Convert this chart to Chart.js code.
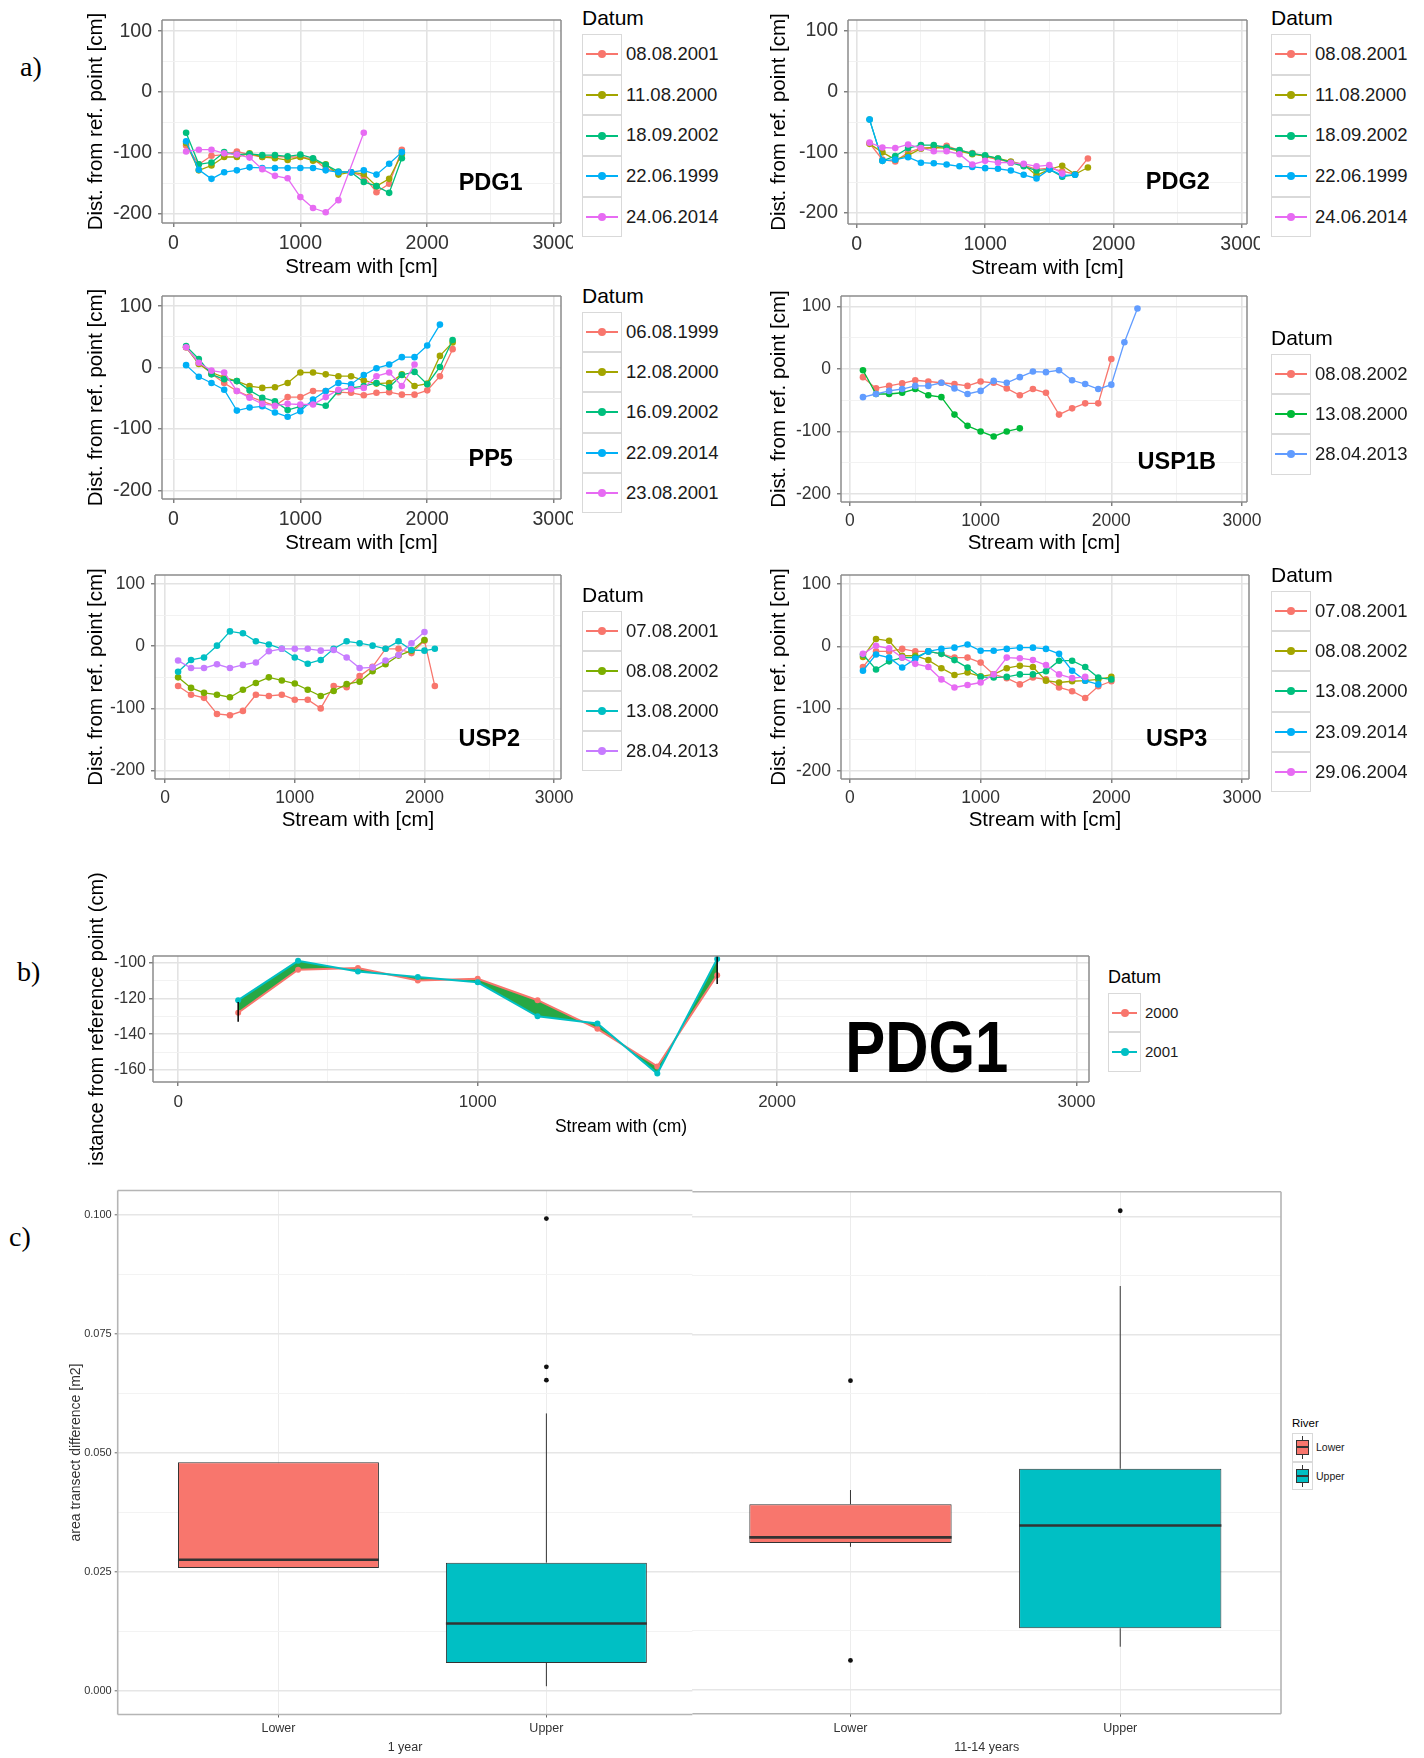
<!DOCTYPE html>
<html lang="en">
<head>
<meta charset="utf-8">
<title>Cross-section profiles and transect area change</title>
<script src="https://cdn.jsdelivr.net/npm/chart.js@4.4.1/dist/chart.umd.min.js"></script>
<style>
  html, body { margin: 0; padding: 0; background: #fff; }
  #page { position: relative; width: 1424px; height: 1758px; overflow: hidden; background: #fff; }
  #page canvas { position: absolute; }
  .tag { position: absolute; font-family: 'Liberation Serif', 'DejaVu Serif', serif; font-size: 28px; line-height: 28px; color: #000; }
  .legend { position: absolute; color: #1a1a1a; }
  .legend .ttl { position: absolute; left: 0; white-space: nowrap; color: #000; }
  .legend .row { position: absolute; left: 0; }
  .legend .key { position: absolute; left: 0; top: 0; box-sizing: border-box; border: 1px solid #d9d9d9; background: #fff; }
  .legend .lbl { position: absolute; top: 0; white-space: nowrap; }
</style>
</head>
<body>
<div id="page">
  <div class="tag" style="left:20px;top:53px">a)</div>
  <div class="tag" style="left:17px;top:958px">b)</div>
  <div class="tag" style="left:9px;top:1223px">c)</div>

  <canvas id="pdg1"></canvas>
  <canvas id="pdg2"></canvas>
  <canvas id="pp5"></canvas>
  <canvas id="usp1b"></canvas>
  <canvas id="usp2"></canvas>
  <canvas id="usp3"></canvas>
  <canvas id="pdg1Years"></canvas>
  <canvas id="areaYear1"></canvas>
  <canvas id="areaYear14"></canvas>

  <div class="legend" id="lgPdg1"></div>
  <div class="legend" id="lgPdg2"></div>
  <div class="legend" id="lgPp5"></div>
  <div class="legend" id="lgUsp1b"></div>
  <div class="legend" id="lgUsp2"></div>
  <div class="legend" id="lgUsp3"></div>
  <div class="legend" id="lgYears"></div>
  <div class="legend" id="lgRiver"></div>
</div>

<script>
const SANS = "'Liberation Sans', Arial, sans-serif";
Chart.defaults.font.family = SANS;
Chart.defaults.color = '#333';

// ggplot hue palettes
const hue2 = ['#F8766D', '#00BFC4'];
const hue3 = ['#F8766D', '#00BA38', '#619CFF'];
const hue4 = ['#F8766D', '#7CAE00', '#00BFC4', '#C77CFF'];
const hue5 = ['#F8766D', '#A3A500', '#00BF7D', '#00B0F6', '#E76BF3'];

// tick positions (grid at every entry, label on the major ones)
const streamTicks = [0, 500, 1000, 1500, 2000, 2500, 3000];
const depthTicks = [-200, -150, -100, -50, 0, 50, 100];
const pdgDepthTicks = [-160, -150, -140, -130, -120, -110, -100];
const areaTicks = [0, 0.0125, 0.025, 0.0375, 0.05, 0.0625, 0.075, 0.0875, 0.1];

// ---------- a) cross sections, distance from reference point [cm] ----------
const labelAt = [2500, -150];

const pdg1Dates = ['08.08.2001', '11.08.2000', '18.09.2002', '22.06.1999', '24.06.2014'];
const pdg1X = [100, 200, 300, 400, 500, 600, 700, 800, 900, 1000, 1100, 1200, 1300, 1400, 1500, 1600, 1700, 1800];
const pdg1Depth = [
  [-88, -119, -105, -103, -98, -103, -107, -106, -107, -107, -110, -126, -132, -132, -139, -165, -151, -95],
  [-84, -129, -121, -107, -107, -101, -107, -109, -112, -107, -113, -119, -136, -132, -135, -155, -143, -102],
  [-67, -119, -116, -99, -103, -102, -104, -104, -106, -103, -109, -120, -131, -132, -148, -155, -166, -109],
  [-81, -128, -143, -132, -129, -124, -125, -125, -125, -125, -125, -129, -132, -132, -129, -136, -118, -99],
  [-98, -95, -95, -101, -103, -108, -127, -138, -142, -173, -191, -198, -178, null, -67]
];

const pdg2Dates = ['08.08.2001', '11.08.2000', '18.09.2002', '22.06.1999', '24.06.2014'];
const pdg2X = [100, 200, 300, 400, 500, 600, 700, 800, 900, 1000, 1100, 1200, 1300, 1400, 1500, 1600, 1700, 1800];
const pdg2Depth = [
  [-85, -112, -115, -100, -93, -92, -89, -97, -101, -107, -112, -116, -121, -128, -126, -131, -136, -110],
  [-86, -100, -112, -105, -94, -92, -93, -98, -103, -106, -110, -115, -120, -138, -128, -122, -136, -125],
  [-46, -114, -106, -93, -88, -88, -92, -96, -102, -105, -110, -117, -123, -130, -128, -140, -137],
  [-46, -114, -112, -108, -117, -118, -120, -123, -124, -126, -127, -130, -137, -143, -128, -138, -137],
  [-84, -92, -93, -87, -93, -98, -98, -103, -120, -114, -117, -117, -119, -123, -121, -135]
];

const pp5Dates = ['06.08.1999', '12.08.2000', '16.09.2002', '22.09.2014', '23.08.2001'];
const pp5X = [100, 200, 300, 400, 500, 600, 700, 800, 900, 1000, 1100, 1200, 1300, 1400, 1500, 1600, 1700, 1800, 1900, 2000, 2100, 2200];
const pp5Depth = [
  [33, 8, -10, -25, -38, -47, -55, -62, -48, -48, -38, -38, -40, -41, -45, -41, -40, -44, -44, -37, -14, 30],
  [33, 6, -8, -16, -22, -30, -33, -32, -25, -8, -8, -11, -14, -14, -21, -26, -25, -11, -30, -26, 19, 41],
  [35, 14, -11, -19, -22, -37, -49, -55, -69, -63, -58, -62, -38, -33, -30, -25, -32, -12, -7, -27, 1, 45],
  [4, -15, -25, -36, -70, -65, -63, -73, -80, -71, -52, -38, -25, -27, -12, -1, 5, 17, 17, 36, 70],
  [33, 8, -5, -8, -38, -49, -59, -62, -59, -60, -60, -48, -36, -35, -33, -14, -8, -30, 5]
];

const usp1bDates = ['08.08.2002', '13.08.2000', '28.04.2013'];
const usp1bX = [100, 200, 300, 400, 500, 600, 700, 800, 900, 1000, 1100, 1200, 1300, 1400, 1500, 1600, 1700, 1800, 1900, 2000, 2100, 2200];
const usp1bDepth = [
  [-13, -31, -27, -23, -18, -20, -22, -24, -27, -20, -22, -31, -42, -32, -38, -73, -63, -55, -55, 16],
  [-2, -40, -40, -38, -32, -42, -45, -73, -91, -100, -108, -100, -95],
  [-45, -40, -35, -32, -27, -27, -22, -31, -40, -35, -19, -22, -13, -4, -5, -2, -18, -24, -32, -25, 43, 97]
];

const usp2Dates = ['07.08.2001', '08.08.2002', '13.08.2000', '28.04.2013'];
const usp2X = [100, 200, 300, 400, 500, 600, 700, 800, 900, 1000, 1100, 1200, 1300, 1400, 1500, 1600, 1700, 1800, 1900, 2000, 2080];
const usp2Depth = [
  [-64, -78, -83, -109, -111, -104, -78, -80, -78, -86, -86, -100, -64, -66, -48, -33, -4, -4, -11, 9, -64],
  [-50, -67, -75, -78, -82, -70, -59, -50, -55, -60, -70, -80, -72, -61, -57, -40, -29, -15, -7, 10],
  [-41, -22, -18, 1, 24, 21, 8, 3, -4, -18, -28, -22, -4, 8, 5, 1, -4, 8, -6, -7, -4],
  [-23, -35, -35, -29, -35, -30, -26, -8, -4, -4, -4, -7, -6, -18, -35, -34, -23, -14, 5, 23]
];

const usp3Dates = ['07.08.2001', '08.08.2002', '13.08.2000', '23.09.2014', '29.06.2004'];
const usp3X = [100, 200, 300, 400, 500, 600, 700, 800, 900, 1000, 1100, 1200, 1300, 1400, 1500, 1600, 1700, 1800, 1900, 2000];
const usp3Depth = [
  [-33, -8, -8, -4, -8, -8, -12, -18, -18, -26, -45, -51, -61, -50, -53, -66, -72, -83, -64, -56],
  [-17, 12, 9, -15, -15, -22, -35, -46, -42, -48, -45, -35, -31, -33, -55, -58, -56, -55, -53, -49],
  [-13, -37, -24, -18, -18, -8, -12, -22, -34, -49, -50, -49, -45, -45, -40, -23, -23, -33, -50, -53],
  [-39, -13, -18, -34, -20, -8, -4, -2, 3, -7, -7, -4, -2, -2, -4, -12, -39, -55, -61],
  [-12, 1, -3, -18, -28, -33, -53, -66, -62, -58, -45, -18, -19, -22, -30, -45, -51, -49]
];

// ---------- b) PDG1, two years with the band between them ----------
const yearsLabels = ['2000', '2001'];
const yearsX = [200, 400, 600, 800, 1000, 1200, 1400, 1600, 1800];
const depth2000 = [-128, -104, -103, -110, -109, -121, -137, -158, -107];
const depth2001 = [-121, -99, -105, -108, -111, -130, -134, -162, -98];
const errX = [200, 1800];
const errLow = [-133, -112];
const errHigh = [-122, -96];
const bandColor = '#27a844';

// ---------- c) area transect difference [m2] ----------
const riverGroups = ['Lower', 'Upper'];
const riverColors = ['#F8766D', '#00BFC4'];
const periods = ['1 year', '11-14 years'];
const yr1Low = [0.0258, 0.0009];
const yr1Q1 = [0.0258, 0.0058];
const yr1Median = [0.0275, 0.0141];
const yr1Q3 = [0.0480, 0.0269];
const yr1High = [0.0480, 0.0583];
const yr1Outliers = [[], [0.0993, 0.0681, 0.0653]];
const yr14Low = [0.0302, 0.0091];
const yr14Q1 = [0.0310, 0.0130];
const yr14Median = [0.0322, 0.0347];
const yr14Q3 = [0.0392, 0.0467];
const yr14High = [0.0422, 0.0853];
const yr14Outliers = [[0.0653, 0.0062], [0.1012]];

// ---------- helpers ----------
function place(cv, c) {
  cv.width = Math.round(c.right - c.left);
  cv.height = Math.round(c.bottom - c.top);
  cv.style.left = c.left + 'px';
  cv.style.top = c.top + 'px';
}

// use a fixed list of tick values instead of the generated ones
const fixedTicks = list => s => { s.ticks = list.map(value => ({value})); };

function gridLines(isMajor, tickLen) {
  const major = c => isMajor(c.tick ? c.tick.value : 0);
  return {
    color: c => major(c) ? '#e3e3e3' : '#f1f1f1',
    lineWidth: c => major(c) ? 1.6 : 0.9,
    tickColor: c => major(c) ? '#555' : 'rgba(0,0,0,0)',
    tickLength: tickLen,
    tickWidth: 1.1
  };
}

// grey frame round the plotting panel (sides: t, r, b, l)
const panelFrame = {
  id: 'panelFrame',
  afterDraw(chart, args, opts) {
    const a = chart.chartArea, ctx = chart.ctx;
    const sides = opts.sides || 'trbl';
    ctx.save();
    ctx.strokeStyle = opts.color || '#8c8c8c';
    ctx.lineWidth = opts.width || 1.5;
    ctx.beginPath();
    if (sides.includes('t')) { ctx.moveTo(a.left, a.top); ctx.lineTo(a.right, a.top); }
    if (sides.includes('r')) { ctx.moveTo(a.right, a.top); ctx.lineTo(a.right, a.bottom); }
    if (sides.includes('b')) { ctx.moveTo(a.left, a.bottom); ctx.lineTo(a.right, a.bottom); }
    if (sides.includes('l')) { ctx.moveTo(a.left, a.top); ctx.lineTo(a.left, a.bottom); }
    ctx.stroke();
    ctx.restore();
  }
};

// site name written inside the panel at data coordinates
function panelLabel(text, at, font, squeeze) {
  return {
    id: 'panelLabel',
    afterDatasetsDraw(chart) {
      const ctx = chart.ctx;
      ctx.save();
      ctx.translate(chart.scales.x.getPixelForValue(at[0]), chart.scales.y.getPixelForValue(at[1]));
      ctx.scale(squeeze || 1, 1);
      ctx.font = font;
      ctx.fillStyle = '#000';
      ctx.textAlign = 'center';
      ctx.textBaseline = 'middle';
      ctx.fillText(text, 0, 0);
      ctx.restore();
    }
  };
}

function lineGlyph(color) {
  return '<div style="position:absolute;left:3px;right:3px;top:50%;height:2px;margin-top:-1px;background:' + color + '"></div>' +
         '<div style="position:absolute;left:50%;top:50%;width:8px;height:8px;margin:-4px 0 0 -4px;border-radius:50%;background:' + color + '"></div>';
}

function boxGlyph(color) {
  return '<div style="position:absolute;left:50%;top:2px;bottom:2px;width:1px;margin-left:-0.5px;background:#333"></div>' +
         '<div style="position:absolute;left:3px;right:3px;top:6px;bottom:6px;box-sizing:border-box;border:1px solid #333;background:' + color + '"></div>' +
         '<div style="position:absolute;left:3px;right:3px;top:50%;height:2px;margin-top:-1px;background:#333"></div>';
}

// legend built as html beside the panel, from the chart's datasets
function htmlLegend(cfg) {
  return {
    id: 'htmlLegend',
    afterUpdate(chart) {
      const box = document.getElementById(cfg.id);
      box.innerHTML = '';
      box.style.left = cfg.left + 'px';
      box.style.top = cfg.top + 'px';
      const ttl = document.createElement('div');
      ttl.className = 'ttl';
      ttl.textContent = cfg.title;
      ttl.style.font = cfg.titleFont;
      ttl.style.lineHeight = '30px';
      ttl.style.top = (-cfg.titleGap - 15) + 'px';
      box.appendChild(ttl);
      const items = cfg.items || chart.data.datasets
        .filter(d => !d.noLegend)
        .map(d => ({text: d.label, color: d.borderColor}));
      items.forEach((it, i) => {
        const row = document.createElement('div');
        row.className = 'row';
        row.style.top = (i * cfg.keyH) + 'px';
        const key = document.createElement('div');
        key.className = 'key';
        key.style.width = cfg.keyW + 'px';
        key.style.height = cfg.keyH + 'px';
        key.innerHTML = cfg.glyph === 'box' ? boxGlyph(it.color) : lineGlyph(it.color);
        const lbl = document.createElement('div');
        lbl.className = 'lbl';
        lbl.textContent = it.text;
        lbl.style.font = cfg.font;
        lbl.style.lineHeight = cfg.keyH + 'px';
        lbl.style.left = (cfg.keyW + cfg.gap) + 'px';
        row.appendChild(key);
        row.appendChild(lbl);
        box.appendChild(row);
      });
    }
  };
}

function lineLegend(id, left, top, keyH) {
  return {id, left, top, keyH, keyW: 40, gap: 4, title: 'Datum', titleGap: 16,
          font: '18.5px ' + SANS, titleFont: '21px ' + SANS};
}

// one panel of a): depth profiles for each survey date
function transectChart(id, g, xs, dates, values, colors, name, legend) {
  const cv = document.getElementById(id);
  place(cv, g.canvas);
  const c = g.canvas, p = g.panel;
  const datasets = dates.map((d, i) => ({
    label: d,
    data: values[i].map((v, j) => ({x: xs[j], y: v})),
    borderColor: colors[i],
    backgroundColor: colors[i],
    borderWidth: 1.3,
    pointRadius: 3.3,
    pointHoverRadius: 3.3,
    pointBorderWidth: 0,
    spanGaps: true,
    order: -i
  }));
  return new Chart(cv, {
    type: 'line',
    data: {datasets},
    plugins: [panelFrame, panelLabel(name, labelAt, 'bold 23.5px ' + SANS), htmlLegend(legend)],
    options: {
      responsive: false,
      animation: false,
      devicePixelRatio: 1,
      events: [],
      layout: {autoPadding: false, padding: {left: 0, top: p.top - c.top, right: c.right - p.right, bottom: 0}},
      plugins: {legend: {display: false}, tooltip: {enabled: false}, panelFrame: {color: '#8c8c8c', width: 1.5}},
      scales: {
        x: {
          type: 'linear', min: g.x[0], max: g.x[1],
          afterBuildTicks: fixedTicks(streamTicks),
          afterFit(s) { s.height = c.bottom - p.bottom; s.paddingLeft = 0; s.paddingRight = 0; },
          border: {display: false},
          grid: gridLines(v => v % 1000 === 0, 4),
          ticks: {autoSkip: false, maxRotation: 0, padding: 5,
                  color: '#333', font: {size: g.tick}, callback: v => v % 1000 === 0 ? String(v) : ''},
          title: {display: true, text: 'Stream with [cm]', color: '#000', font: {size: 20.5, lineHeight: 1.2},
                  padding: {top: 0, bottom: c.bottom - g.xTitleY - 12.3}}
        },
        y: {
          min: g.y[0], max: g.y[1],
          afterBuildTicks: fixedTicks(depthTicks),
          afterFit(s) { s.width = p.left - c.left; s.paddingTop = 0; s.paddingBottom = 0; },
          border: {display: false},
          grid: gridLines(v => v % 100 === 0, 4),
          ticks: {autoSkip: false, padding: 6,
                  color: '#333', font: {size: g.tick}, callback: v => v % 100 === 0 ? String(v) : ''},
          title: {display: true, text: 'Dist. from ref. point [cm]', color: '#000', font: {size: 20.5, lineHeight: 1.2},
                  padding: {top: g.yTitleX - c.left - 12.3, bottom: 0}}
        }
      }
    }
  });
}

transectChart('pdg1', {
  canvas: {left: 80, top: 10, right: 573, bottom: 281}, panel: {left: 162, top: 20, right: 561, bottom: 223},
  x: [-90, 3054], y: [-215.6, 118.4], tick: 19.5, yTitleX: 96, xTitleY: 267
}, pdg1X, pdg1Dates, pdg1Depth, hue5, 'PDG1', lineLegend('lgPdg1', 582, 34, 40.7));

transectChart('pdg2', {
  canvas: {left: 763, top: 10, right: 1260, bottom: 281}, panel: {left: 848, top: 20, right: 1247, bottom: 224},
  x: [-68, 3039], y: [-218, 118], tick: 19.5, yTitleX: 779, xTitleY: 268
}, pdg2X, pdg2Dates, pdg2Depth, hue5, 'PDG2', lineLegend('lgPdg2', 1271, 34, 40.7));

transectChart('pp5', {
  canvas: {left: 80, top: 286, right: 573, bottom: 556}, panel: {left: 162, top: 296, right: 561, bottom: 499},
  x: [-90, 3054], y: [-213.8, 116.5], tick: 19.5, yTitleX: 96, xTitleY: 543
}, pp5X, pp5Dates, pp5Depth, hue5, 'PP5', lineLegend('lgPp5', 582, 312, 40.2));

transectChart('usp1b', {
  canvas: {left: 763, top: 286, right: 1300, bottom: 556}, panel: {left: 841, top: 296, right: 1247, bottom: 502},
  x: [-68, 3038], y: [-213, 117], tick: 17.5, yTitleX: 779, xTitleY: 543
}, usp1bX, usp1bDates, usp1bDepth, hue3, 'USP1B', lineLegend('lgUsp1b', 1271, 354, 40.2));

transectChart('usp2', {
  canvas: {left: 80, top: 565, right: 605, bottom: 833}, panel: {left: 155, top: 575, right: 561, bottom: 779},
  x: [-78, 3053], y: [-213.7, 114.8], tick: 17.5, yTitleX: 96, xTitleY: 820
}, usp2X, usp2Dates, usp2Depth, hue4, 'USP2', lineLegend('lgUsp2', 582, 610.5, 40.2));

transectChart('usp3', {
  canvas: {left: 763, top: 565, right: 1300, bottom: 833}, panel: {left: 841, top: 575, right: 1249, bottom: 779},
  x: [-68, 3053], y: [-213, 114.7], tick: 17.5, yTitleX: 779, xTitleY: 820
}, usp3X, usp3Dates, usp3Depth, hue5, 'USP3', lineLegend('lgUsp3', 1271, 591, 40.2));

// ---------- b) ----------
(function () {
  const cv = document.getElementById('pdg1Years');
  const c = {left: 82, top: 860, right: 1095, bottom: 1172};
  const p = {left: 153, top: 956, right: 1089, bottom: 1082};
  const xTitleY = 1127, yTitleX = 97;
  place(cv, c);
  const toPts = vals => vals.map((v, j) => ({x: yearsX[j], y: v}));
  const datasets = [
    {label: yearsLabels[0], data: toPts(depth2000), borderColor: hue2[0], pointBackgroundColor: hue2[0],
     backgroundColor: bandColor, fill: '+1', borderWidth: 2, pointRadius: 3, pointBorderWidth: 0, order: 0},
    {label: yearsLabels[1], data: toPts(depth2001), borderColor: hue2[1], pointBackgroundColor: hue2[1],
     backgroundColor: hue2[1], fill: false, borderWidth: 2, pointRadius: 3, pointBorderWidth: 0, order: -1}
  ];
  errX.forEach((x, i) => datasets.push({
    label: 'err' + i, noLegend: true, data: [{x, y: errLow[i]}, {x, y: errHigh[i]}],
    borderColor: '#000', borderWidth: 1.5, pointRadius: 0, fill: false, order: -2 - i
  }));
  new Chart(cv, {
    type: 'line',
    data: {datasets},
    plugins: [panelFrame, panelLabel('PDG1', labelAt, 'bold 73px ' + SANS, 0.82),
      htmlLegend({id: 'lgYears', left: 1108, top: 993.3, keyW: 33, keyH: 39.2, gap: 4, title: 'Datum', titleGap: 16,
                  font: '15px ' + SANS, titleFont: '18px ' + SANS})],
    options: {
      responsive: false, animation: false, devicePixelRatio: 1, events: [],
      layout: {autoPadding: false, padding: {left: 0, top: p.top - c.top, right: c.right - p.right, bottom: c.bottom - (xTitleY + 12)}},
      plugins: {legend: {display: false}, tooltip: {enabled: false}, panelFrame: {color: '#8c8c8c', width: 1.5}},
      scales: {
        x: {
          type: 'linear', min: -84.5, max: 3042,
          afterBuildTicks: fixedTicks(streamTicks),
          afterFit(s) { s.height = xTitleY + 12 - p.bottom; s.paddingLeft = 0; s.paddingRight = 0; },
          border: {display: false},
          grid: gridLines(v => v % 1000 === 0, 4),
          ticks: {autoSkip: false, maxRotation: 0, padding: 6,
                  color: '#333', font: {size: 17}, callback: v => v % 1000 === 0 ? String(v) : ''},
          title: {display: true, text: 'Stream with (cm)', color: '#000', font: {size: 17.5, lineHeight: 1.2},
                  padding: {top: 0, bottom: 1.5}}
        },
        y: {
          min: -166.7, max: -96.3,
          afterBuildTicks: fixedTicks(pdgDepthTicks),
          afterFit(s) { s.width = p.left - c.left; s.paddingTop = 0; s.paddingBottom = 0; },
          border: {display: false},
          grid: gridLines(v => v % 20 === 0, 4),
          ticks: {autoSkip: false, padding: 3,
                  color: '#333', font: {size: 16}, callback: v => v % 20 === 0 ? String(v) : ''},
          title: {display: true, text: 'istance from reference point (cm)', color: '#000', font: {size: 20, lineHeight: 1.2},
                  padding: {top: yTitleX - c.left - 12, bottom: 0}}
        }
      }
    }
  });
})();

// ---------- c) box plots ----------
// medians and whiskers drawn over the floating bars that form the boxes
function boxLines(st) {
  return {
    id: 'boxLines',
    afterDatasetsDraw(chart) {
      const ctx = chart.ctx, y = chart.scales.y;
      const bars = chart.getDatasetMeta(0).data;
      ctx.save();
      ctx.strokeStyle = '#333';
      bars.forEach((bar, i) => {
        const {x, width} = bar.getProps(['x', 'width'], true);
        ctx.lineWidth = 1;
        ctx.beginPath();
        ctx.moveTo(x, y.getPixelForValue(st.q3[i]));
        ctx.lineTo(x, y.getPixelForValue(st.hi[i]));
        ctx.moveTo(x, y.getPixelForValue(st.q1[i]));
        ctx.lineTo(x, y.getPixelForValue(st.lo[i]));
        ctx.stroke();
        const m = y.getPixelForValue(st.med[i]);
        ctx.lineWidth = 2.6;
        ctx.beginPath();
        ctx.moveTo(x - width / 2, m);
        ctx.lineTo(x + width / 2, m);
        ctx.stroke();
      });
      ctx.restore();
    }
  };
}

function boxChart(id, g, period, st, withAxis, sides, legend) {
  const cv = document.getElementById(id);
  place(cv, g.canvas);
  const c = g.canvas, p = g.panel;
  const isMajorY = v => Math.round(v * 1000) % 25 === 0;
  const plugins = [panelFrame, boxLines(st)];
  if (legend) plugins.push(htmlLegend(legend));
  return new Chart(cv, {
    type: 'bar',
    data: {
      datasets: [
        {type: 'bar', label: 'box', data: riverGroups.map((r, i) => ({x: i, y: [st.q1[i], st.q3[i]]})),
         backgroundColor: riverColors, borderColor: '#333', borderWidth: 1, borderSkipped: false,
         barPercentage: 0.75, categoryPercentage: 1, order: 1},
        {type: 'line', label: 'outliers', showLine: false,
         data: st.out.flatMap((vals, i) => vals.map(v => ({x: i, y: v}))),
         pointRadius: 2.4, pointBackgroundColor: '#111', pointBorderWidth: 0, order: 0}
      ]
    },
    plugins,
    options: {
      responsive: false, animation: false, devicePixelRatio: 1, events: [],
      layout: {autoPadding: false, padding: {left: 0, top: p.top - c.top, right: c.right - p.right, bottom: 0}},
      plugins: {legend: {display: false}, tooltip: {enabled: false}, panelFrame: {color: '#b5b5b5', width: 1.6, sides}},
      scales: {
        x: {
          type: 'linear', min: g.x[0], max: g.x[1], offset: false,
          afterBuildTicks: fixedTicks(riverGroups.map((r, i) => i)),
          afterFit(s) { s.height = c.bottom - p.bottom; s.paddingLeft = 0; s.paddingRight = 0; },
          border: {display: false},
          grid: {offset: false, color: '#ececec', lineWidth: 1, tickColor: '#666', tickLength: 3, tickWidth: 1},
          ticks: {autoSkip: false, maxRotation: 0, padding: 4,
                  color: '#333', font: {size: 12.5}, callback: v => riverGroups[v]},
          title: {display: true, text: period, color: '#333', font: {size: 12.5, lineHeight: 1.2},
                  padding: {top: 0, bottom: 2.5}}
        },
        y: {
          min: -0.00505, max: 0.1052,
          afterBuildTicks: fixedTicks(areaTicks),
          afterFit(s) { s.width = p.left - c.left; s.paddingTop = 0; s.paddingBottom = 0; },
          border: {display: false},
          grid: {
            color: ctx => isMajorY(ctx.tick ? ctx.tick.value : 0) ? '#e6e6e6' : '#f3f3f3',
            lineWidth: ctx => isMajorY(ctx.tick ? ctx.tick.value : 0) ? 1.6 : 1,
            tickColor: ctx => withAxis && isMajorY(ctx.tick ? ctx.tick.value : 0) ? '#666' : 'rgba(0,0,0,0)',
            tickLength: withAxis ? 3 : 0, tickWidth: 1
          },
          ticks: {display: withAxis, autoSkip: false, padding: 3,
                  color: '#333', font: {size: 11},
                  callback: v => isMajorY(v) ? v.toFixed(3) : ''},
          title: {display: withAxis, text: 'area transect difference [m2]', color: '#333', font: {size: 14, lineHeight: 1.2},
                  padding: {top: 0.6, bottom: 0}}
        }
      }
    }
  });
}

boxChart('areaYear1', {
  canvas: {left: 67, top: 1180, right: 694, bottom: 1758}, panel: {left: 117.7, top: 1190.5, right: 692.4, bottom: 1714.5},
  x: [-0.6, 1.545]
}, periods[0], {lo: yr1Low, q1: yr1Q1, med: yr1Median, q3: yr1Q3, hi: yr1High, out: yr1Outliers}, true, 'tbl', null);

boxChart('areaYear14', {
  canvas: {left: 689, top: 1180, right: 1285, bottom: 1758}, panel: {left: 692.4, top: 1191.8, right: 1281, bottom: 1713.7},
  x: [-0.586, 1.596]
}, periods[1], {lo: yr14Low, q1: yr14Q1, med: yr14Median, q3: yr14Q3, hi: yr14High, out: yr14Outliers}, false, 'trb',
  {id: 'lgRiver', left: 1292, top: 1433, keyW: 21, keyH: 28.5, gap: 3, title: 'River', titleGap: 10, glyph: 'box',
   items: riverGroups.map((r, i) => ({text: r, color: riverColors[i]})),
   font: '10.5px ' + SANS, titleFont: '11.5px ' + SANS});
</script>
</body>
</html>
